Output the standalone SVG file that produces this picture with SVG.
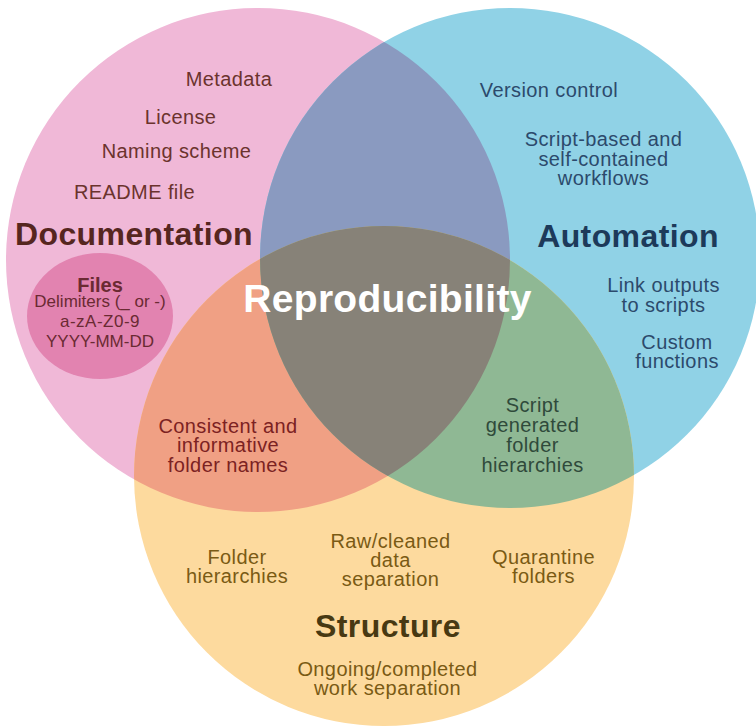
<svg xmlns="http://www.w3.org/2000/svg" width="756" height="726" viewBox="0 0 756 726">
  <style>
    text { font-family: "Liberation Sans", Arial, sans-serif; text-anchor: middle; }
    .item { font-size: 20px; letter-spacing: 0.4px; }
    .title { font-size: 32px; font-weight: bold; letter-spacing: 0.4px; }
    .doc { fill: #6B332D; }
    .doc-title { fill: #56261F; }
    .auto { fill: #2C4A6C; }
    .auto-title { fill: #1D3A5A; }
    .struct { fill: #7A5A14; }
    .struct-title { fill: #483912; }
    .files { fill: #6A2A32; }
    .pinkorange { fill: #7C2222; }
    .blueorange { fill: #2F4A3B; }
  </style>
  <defs>
    <clipPath id="clipPink"><circle cx="258" cy="260" r="252"/></clipPath>
    <clipPath id="clipBlue"><circle cx="510" cy="258" r="250"/></clipPath>
  </defs>

  <!-- set circles -->
  <g id="circles">
    <circle id="doc-circle" cx="258" cy="260" r="252" fill="#F0B8D7"/>
    <circle id="auto-circle" cx="510" cy="258" r="250" fill="#90D2E6"/>
    <circle id="struct-circle" cx="384" cy="476" r="250" fill="#FDDA9E"/>
  </g>

  <!-- pairwise and triple overlaps -->
  <g id="overlaps">
    <circle cx="510" cy="258" r="250" fill="#8A9AC0" clip-path="url(#clipPink)"/>
    <circle cx="384" cy="476" r="250" fill="#F0A084" clip-path="url(#clipPink)"/>
    <circle cx="384" cy="476" r="250" fill="#8FB894" clip-path="url(#clipBlue)"/>
    <g clip-path="url(#clipBlue)">
      <circle cx="384" cy="476" r="250" fill="#878278" clip-path="url(#clipPink)"/>
    </g>
  </g>

  <!-- Documentation -->
  <g id="documentation">
    <text class="item doc" x="229" y="86">Metadata</text>
    <text class="item doc" x="180.5" y="124">License</text>
    <text class="item doc" x="176.5" y="158">Naming scheme</text>
    <text class="item doc" x="134.5" y="199">README file</text>
    <text class="title doc-title" x="134" y="245">Documentation</text>
  </g>

  <!-- Files sub-bubble -->
  <g id="files">
    <ellipse cx="100" cy="316" rx="73" ry="63" fill="#E283B0"/>
    <text class="files" x="100" y="292" style="font-size:20px;font-weight:bold">Files</text>
    <text class="files" x="100" y="307" style="font-size:17px">Delimiters (_ or -)</text>
    <text class="files" x="100" y="327" style="font-size:17px;letter-spacing:0.5px">a-zA-Z0-9</text>
    <text class="files" x="100" y="347" style="font-size:17px">YYYY-MM-DD</text>
  </g>

  <!-- Automation -->
  <g id="automation">
    <text class="item auto" x="549" y="97">Version control</text>
    <text class="item auto" x="603.5" y="146">Script-based and</text>
    <text class="item auto" x="603.5" y="166">self-contained</text>
    <text class="item auto" x="603.5" y="185">workflows</text>
    <text class="title auto-title" x="628" y="247">Automation</text>
    <text class="item auto" x="663.5" y="292">Link outputs</text>
    <text class="item auto" x="663.5" y="312">to scripts</text>
    <text class="item auto" x="677" y="349">Custom</text>
    <text class="item auto" x="677" y="368">functions</text>
  </g>

  <!-- Centre -->
  <g id="reproducibility">
    <text x="387.5" y="312" style="font-size:39px;font-weight:bold;letter-spacing:0.3px;fill:#FFFFFF">Reproducibility</text>
  </g>

  <!-- Documentation + Structure -->
  <g id="folder-names">
    <text class="item pinkorange" x="228" y="433">Consistent and</text>
    <text class="item pinkorange" x="228" y="452">informative</text>
    <text class="item pinkorange" x="228" y="472">folder names</text>
  </g>

  <!-- Automation + Structure -->
  <g id="script-hierarchies">
    <text class="item blueorange" x="532.5" y="412">Script</text>
    <text class="item blueorange" x="532.5" y="432">generated</text>
    <text class="item blueorange" x="532.5" y="452">folder</text>
    <text class="item blueorange" x="532.5" y="472">hierarchies</text>
  </g>

  <!-- Structure -->
  <g id="structure">
    <text class="item struct" x="237" y="564">Folder</text>
    <text class="item struct" x="237" y="583">hierarchies</text>
    <text class="item struct" x="390.5" y="548">Raw/cleaned</text>
    <text class="item struct" x="390.5" y="567">data</text>
    <text class="item struct" x="390.5" y="586">separation</text>
    <text class="item struct" x="543.5" y="564">Quarantine</text>
    <text class="item struct" x="543.5" y="583">folders</text>
    <text class="title struct-title" x="388" y="637">Structure</text>
    <text class="item struct" x="387.5" y="676">Ongoing/completed</text>
    <text class="item struct" x="387.5" y="695">work separation</text>
  </g>
</svg>
